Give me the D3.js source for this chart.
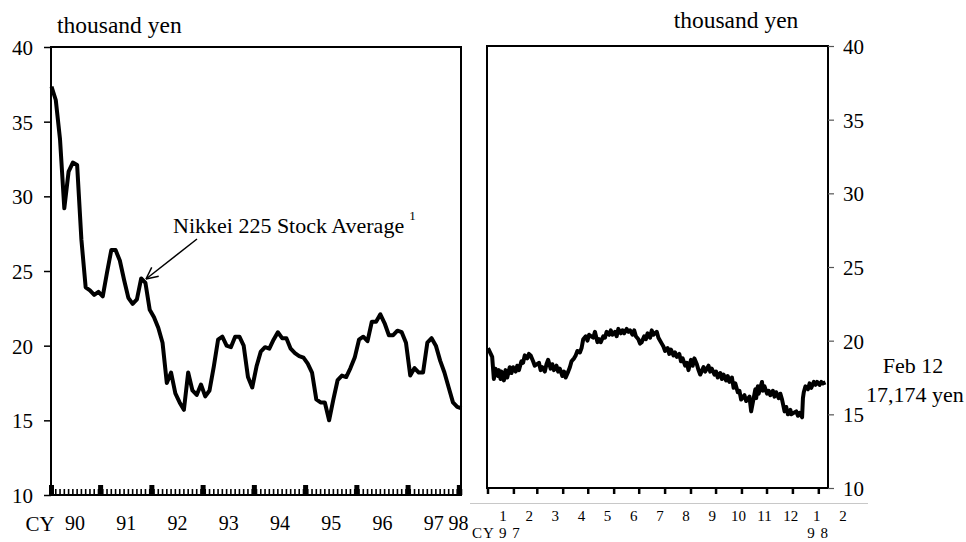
<!DOCTYPE html>
<html><head><meta charset="utf-8">
<script src="https://cdn.jsdelivr.net/npm/d3@7"></script>
<style>
html,body{margin:0;padding:0;background:#fff;}
text{font-family:"Liberation Serif","Times New Roman",serif;fill:#000;}
</style></head>
<body><svg id="c" width="966" height="542"></svg>
<script>
// ---- data ----
// Left panel: monthly Nikkei 225 (thousand yen), Jan 1990 (index 0) .. Jan 1998 (index 96)
const monthlyValues = [
 37.35,36.45,33.8,29.2,31.65,32.26,32.1,27.1,23.9,23.7,23.4,23.6,
 23.3,24.9,26.4,26.4,25.7,24.4,23.2,22.8,23.1,24.5,24.2,22.4,
 21.9,21.2,20.2,17.5,18.2,16.8,16.2,15.7,18.2,17.0,16.7,17.4,
 16.6,17.0,18.6,20.4,20.6,20.0,19.9,20.6,20.6,20.0,17.9,17.2,
 18.6,19.6,19.9,19.8,20.4,20.9,20.5,20.5,19.8,19.5,19.3,19.2,
 18.8,18.2,16.4,16.2,16.2,15.0,16.4,17.7,18.0,17.9,18.5,19.2,
 20.4,20.6,20.3,21.6,21.6,22.1,21.5,20.7,20.7,21.0,20.9,20.2,
 18.0,18.5,18.2,18.2,20.2,20.5,20.0,19.0,18.2,17.2,16.2,15.9,15.8
];
const yearLabels = ["90","91","92","93","94","95","96","97","98"];
const yTicks = [10,15,20,25,30,35,40];

// Right panel: daily Nikkei 225 (thousand yen), Jan 1997 .. Feb 12 1998
const dailyDates = [
 "1997-01-01","1997-01-06","1997-01-08","1997-01-10","1997-01-13","1997-01-14","1997-01-16","1997-01-17","1997-01-20","1997-01-22","1997-01-24","1997-01-27","1997-01-29","1997-01-31",
 "1997-02-03","1997-02-05","1997-02-07","1997-02-10","1997-02-12","1997-02-14","1997-02-17","1997-02-19","1997-02-21","1997-02-24","1997-02-26",
 "1997-03-03","1997-03-05","1997-03-07","1997-03-10","1997-03-12","1997-03-14","1997-03-17","1997-03-19","1997-03-21","1997-03-24","1997-03-26","1997-03-28","1997-03-31",
 "1997-04-02","1997-04-04","1997-04-07","1997-04-09","1997-04-11","1997-04-14","1997-04-16","1997-04-18","1997-04-21","1997-04-23","1997-04-25","1997-04-28","1997-04-30",
 "1997-05-02","1997-05-07","1997-05-09","1997-05-12","1997-05-14","1997-05-16","1997-05-19","1997-05-21","1997-05-23","1997-05-26","1997-05-28","1997-05-30",
 "1997-06-02","1997-06-04","1997-06-06","1997-06-09","1997-06-11","1997-06-13","1997-06-16","1997-06-18","1997-06-20","1997-06-23","1997-06-25","1997-06-27","1997-06-30",
 "1997-07-02","1997-07-04","1997-07-07","1997-07-09","1997-07-11","1997-07-14","1997-07-16","1997-07-18","1997-07-22","1997-07-24","1997-07-28","1997-07-30",
 "1997-08-01","1997-08-04","1997-08-06","1997-08-08","1997-08-11","1997-08-13","1997-08-15","1997-08-18","1997-08-20","1997-08-22","1997-08-25","1997-08-27","1997-08-29",
 "1997-09-01","1997-09-03","1997-09-05","1997-09-08","1997-09-10","1997-09-12","1997-09-16","1997-09-18","1997-09-22","1997-09-24","1997-09-26","1997-09-29",
 "1997-10-01","1997-10-03","1997-10-06","1997-10-08","1997-10-10","1997-10-13","1997-10-15","1997-10-17","1997-10-20","1997-10-22","1997-10-24","1997-10-27","1997-10-29","1997-10-31",
 "1997-11-04","1997-11-06","1997-11-10","1997-11-12","1997-11-17","1997-11-18","1997-11-20","1997-11-21","1997-11-25","1997-11-26","1997-11-27","1997-11-28",
 "1997-12-01","1997-12-03","1997-12-05","1997-12-08","1997-12-10","1997-12-12","1997-12-15","1997-12-17","1997-12-19","1997-12-22","1997-12-24","1997-12-26","1997-12-29","1997-12-30",
 "1998-01-05","1998-01-07","1998-01-09","1998-01-12","1998-01-13","1998-01-14","1998-01-16","1998-01-19","1998-01-21","1998-01-23","1998-01-26","1998-01-28","1998-01-30",
 "1998-02-02","1998-02-04","1998-02-06","1998-02-09","1998-02-12"
];
const dailyValues = [
 19.5,18.9,17.4,18.1,17.6,18.0,17.4,17.9,17.3,18.0,17.5,18.2,17.8,
 18.2,17.9,18.3,18.0,18.6,18.5,19.0,18.8,19.1,19.0,18.6,
 18.3,18.5,18.0,18.2,17.9,18.4,18.7,18.1,18.4,18.0,18.3,17.9,18.1,
 17.6,17.9,17.5,17.9,18.2,18.6,18.8,19.0,19.3,19.2,19.5,20.1,20.3,
 20.0,20.4,20.2,20.6,19.9,20.1,19.9,20.3,20.2,20.6,20.4,20.7,
 20.4,20.6,20.3,20.8,20.5,20.7,20.5,20.8,20.6,20.7,20.4,20.7,20.3,
 20.1,19.8,19.9,20.3,20.1,20.5,20.2,20.7,20.4,20.6,20.2,19.8,
 19.6,19.3,19.5,19.1,19.4,19.0,19.2,18.9,19.1,18.6,18.8,18.3,18.5,
 18.0,18.7,18.3,18.8,18.4,18.0,17.7,18.2,17.9,18.3,17.9,18.1,
 17.7,17.9,17.5,17.8,17.4,17.7,17.3,17.6,17.2,17.5,16.8,17.1,16.5,16.6,
 16.0,16.3,15.9,16.2,15.2,16.7,16.1,16.9,16.4,17.2,16.6,16.8,
 16.9,16.4,16.6,16.3,16.6,16.2,16.5,16.1,16.4,16.0,15.2,15.5,15.0,15.3,
 15.0,15.2,14.9,15.1,14.8,16.1,16.5,16.9,16.7,17.1,16.8,17.2,17.0,
 17.2,17.0,17.2,17.1,17.174
];
const monthLabels = ["1","2","3","4","5","6","7","8","9","10","11","12","1","2"];

// ---- drawing ----
const svg = d3.select("#c");
const TICKFONT = 21, FONT = 22;

// Left panel
const L = {x0:51, x1:461, y0:495, y1:47};
const xL = d3.scaleLinear().domain([0,96]).range([L.x0+0.5, L.x1+0.5]);
const yL = d3.scaleLinear().domain([10,40]).range([L.y0, L.y1]);

const gL = svg.append("g");
gL.append("rect").attr("x",L.x0).attr("y",L.y1).attr("width",L.x1-L.x0).attr("height",L.y0-L.y1)
  .attr("fill","none").attr("stroke","#000").attr("stroke-width",2);
const axL = d3.axisLeft(yL).tickValues(yTicks).tickSize(7).tickPadding(11);
const gax = gL.append("g").attr("transform",`translate(${L.x0},0)`).call(axL);
gax.select(".domain").remove();
gax.selectAll(".tick line").attr("stroke","#000").attr("stroke-width",1.5);
gax.selectAll(".tick text").attr("font-size",TICKFONT).attr("font-family","Liberation Serif").attr("fill","#000").attr("dy","0.35em");
// minor monthly ticks (upward)
gL.append("g").selectAll("line").data(d3.range(0,97)).join("line")
  .attr("x1",d=>xL(d)).attr("x2",d=>xL(d)).attr("y1",L.y0).attr("y2",L.y0-6)
  .attr("stroke","#000").attr("stroke-width",1.6);
// year boundary marks
gL.append("g").selectAll("rect").data([0].concat(d3.range(11.5,96,12))).join("rect")
  .attr("x",d=>xL(d)-2.5).attr("y",L.y0-10).attr("width",5).attr("height",10).attr("fill","#000");
// year labels
const yearPos = yearLabels.map((s,i)=> i<8 ? 5.5+12*i : 95.3);
gL.append("g").selectAll("text").data(yearLabels).join("text")
  .attr("x",(d,i)=>xL(yearPos[i])).attr("y",530).attr("text-anchor","middle")
  .attr("font-size",TICKFONT-1).text(d=>d);
gL.append("text").attr("x",40).attr("y",531).attr("text-anchor","middle").attr("font-size",TICKFONT).text("CY");
gL.append("text").attr("x",57).attr("y",33).attr("font-size",23.5).text("thousand yen");
// line
gL.append("path").datum(monthlyValues)
  .attr("d", d3.line().x((d,i)=>xL(i)).y(d=>yL(d)))
  .attr("fill","none").attr("stroke","#000").attr("stroke-width",4).attr("stroke-linejoin","round");
// annotation
const ann = gL.append("text").attr("x",173).attr("y",233).attr("font-size",FONT);
ann.append("tspan").text("Nikkei 225 Stock Average");
ann.append("tspan").attr("font-size",13).attr("dx",5).attr("dy",-13).attr("fill","#000").text("1");
const ax0=197, ay0=239, ax1=146, ay1=279;
gL.append("line").attr("x1",ax0).attr("y1",ay0).attr("x2",ax1).attr("y2",ay1).attr("stroke","#000").attr("stroke-width",1.5);
const ang = Math.atan2(ay0-ay1, ax0-ax1);
[0.45,-0.45].forEach(a=>{
  gL.append("line").attr("x1",ax1).attr("y1",ay1)
    .attr("x2",ax1+13*Math.cos(ang+a)).attr("y2",ay1+13*Math.sin(ang+a))
    .attr("stroke","#000").attr("stroke-width",1.5);
});

// Right panel
const R = {x0:487, x1:828, y0:488, y1:46};
const parse = d3.timeParse("%Y-%m-%d");
const xR = d3.scaleTime().domain([parse("1997-01-01"), parse("1998-02-12")]).range([R.x0+1, R.x1]);
const yR = d3.scaleLinear().domain([10,40]).range([R.y0, R.y1]);
const gR = svg.append("g");
gR.append("rect").attr("x",R.x0).attr("y",R.y1).attr("width",R.x1-R.x0).attr("height",R.y0-R.y1)
  .attr("fill","none").attr("stroke","#000").attr("stroke-width",2);
const axR = d3.axisRight(yR).tickValues(yTicks).tickSize(6).tickPadding(9);
const gaxR = gR.append("g").attr("transform",`translate(${R.x1},0)`).call(axR);
gaxR.select(".domain").remove();
gaxR.selectAll(".tick line").attr("stroke","#555").attr("stroke-width",1.2);
gaxR.selectAll(".tick text").attr("font-size",TICKFONT).attr("font-family","Liberation Serif").attr("fill","#000").attr("dy","0.35em");
const monthTicks = d3.timeMonth.range(parse("1997-01-01"), parse("1998-02-02"));
gR.append("g").selectAll("line").data(monthTicks).join("line")
  .attr("x1",d=>xR(d)).attr("x2",d=>xR(d)).attr("y1",R.y0).attr("y2",R.y0+6)
  .attr("stroke","#000").attr("stroke-width",2.5);
gR.append("line").attr("x1",470).attr("x2",868).attr("y1",503.5).attr("y2",503.5).attr("stroke","#c8c8c8").attr("stroke-width",1);
const xM = d3.scalePoint().domain(d3.range(monthLabels.length)).range([503,843]);
gR.append("g").selectAll("text").data(monthLabels).join("text")
  .attr("x",(d,i)=>xM(i)).attr("y",521).attr("text-anchor","middle").attr("font-size",15).text(d=>d);
gR.append("text").attr("x",472).attr("y",538).attr("font-size",15).attr("letter-spacing",1).text("CY 9 7");
gR.append("text").attr("x",818).attr("y",538).attr("text-anchor","middle").attr("font-size",15).attr("letter-spacing",1).text("9 8");
gR.append("text").attr("x",736).attr("y",28).attr("text-anchor","middle").attr("font-size",23.5).text("thousand yen");
gR.append("text").attr("x",913).attr("y",373).attr("text-anchor","middle").attr("font-size",FONT).text("Feb 12");
gR.append("text").attr("x",915).attr("y",402).attr("text-anchor","middle").attr("font-size",FONT).text("17,174 yen");
gR.append("path").datum(dailyDates.map((d,i)=>[parse(d), dailyValues[i]]))
  .attr("d", d3.line().x(d=>xR(d[0])).y(d=>yR(d[1])))
  .attr("fill","none").attr("stroke","#000").attr("stroke-width",4).attr("stroke-linejoin","round");
</script></body></html>
